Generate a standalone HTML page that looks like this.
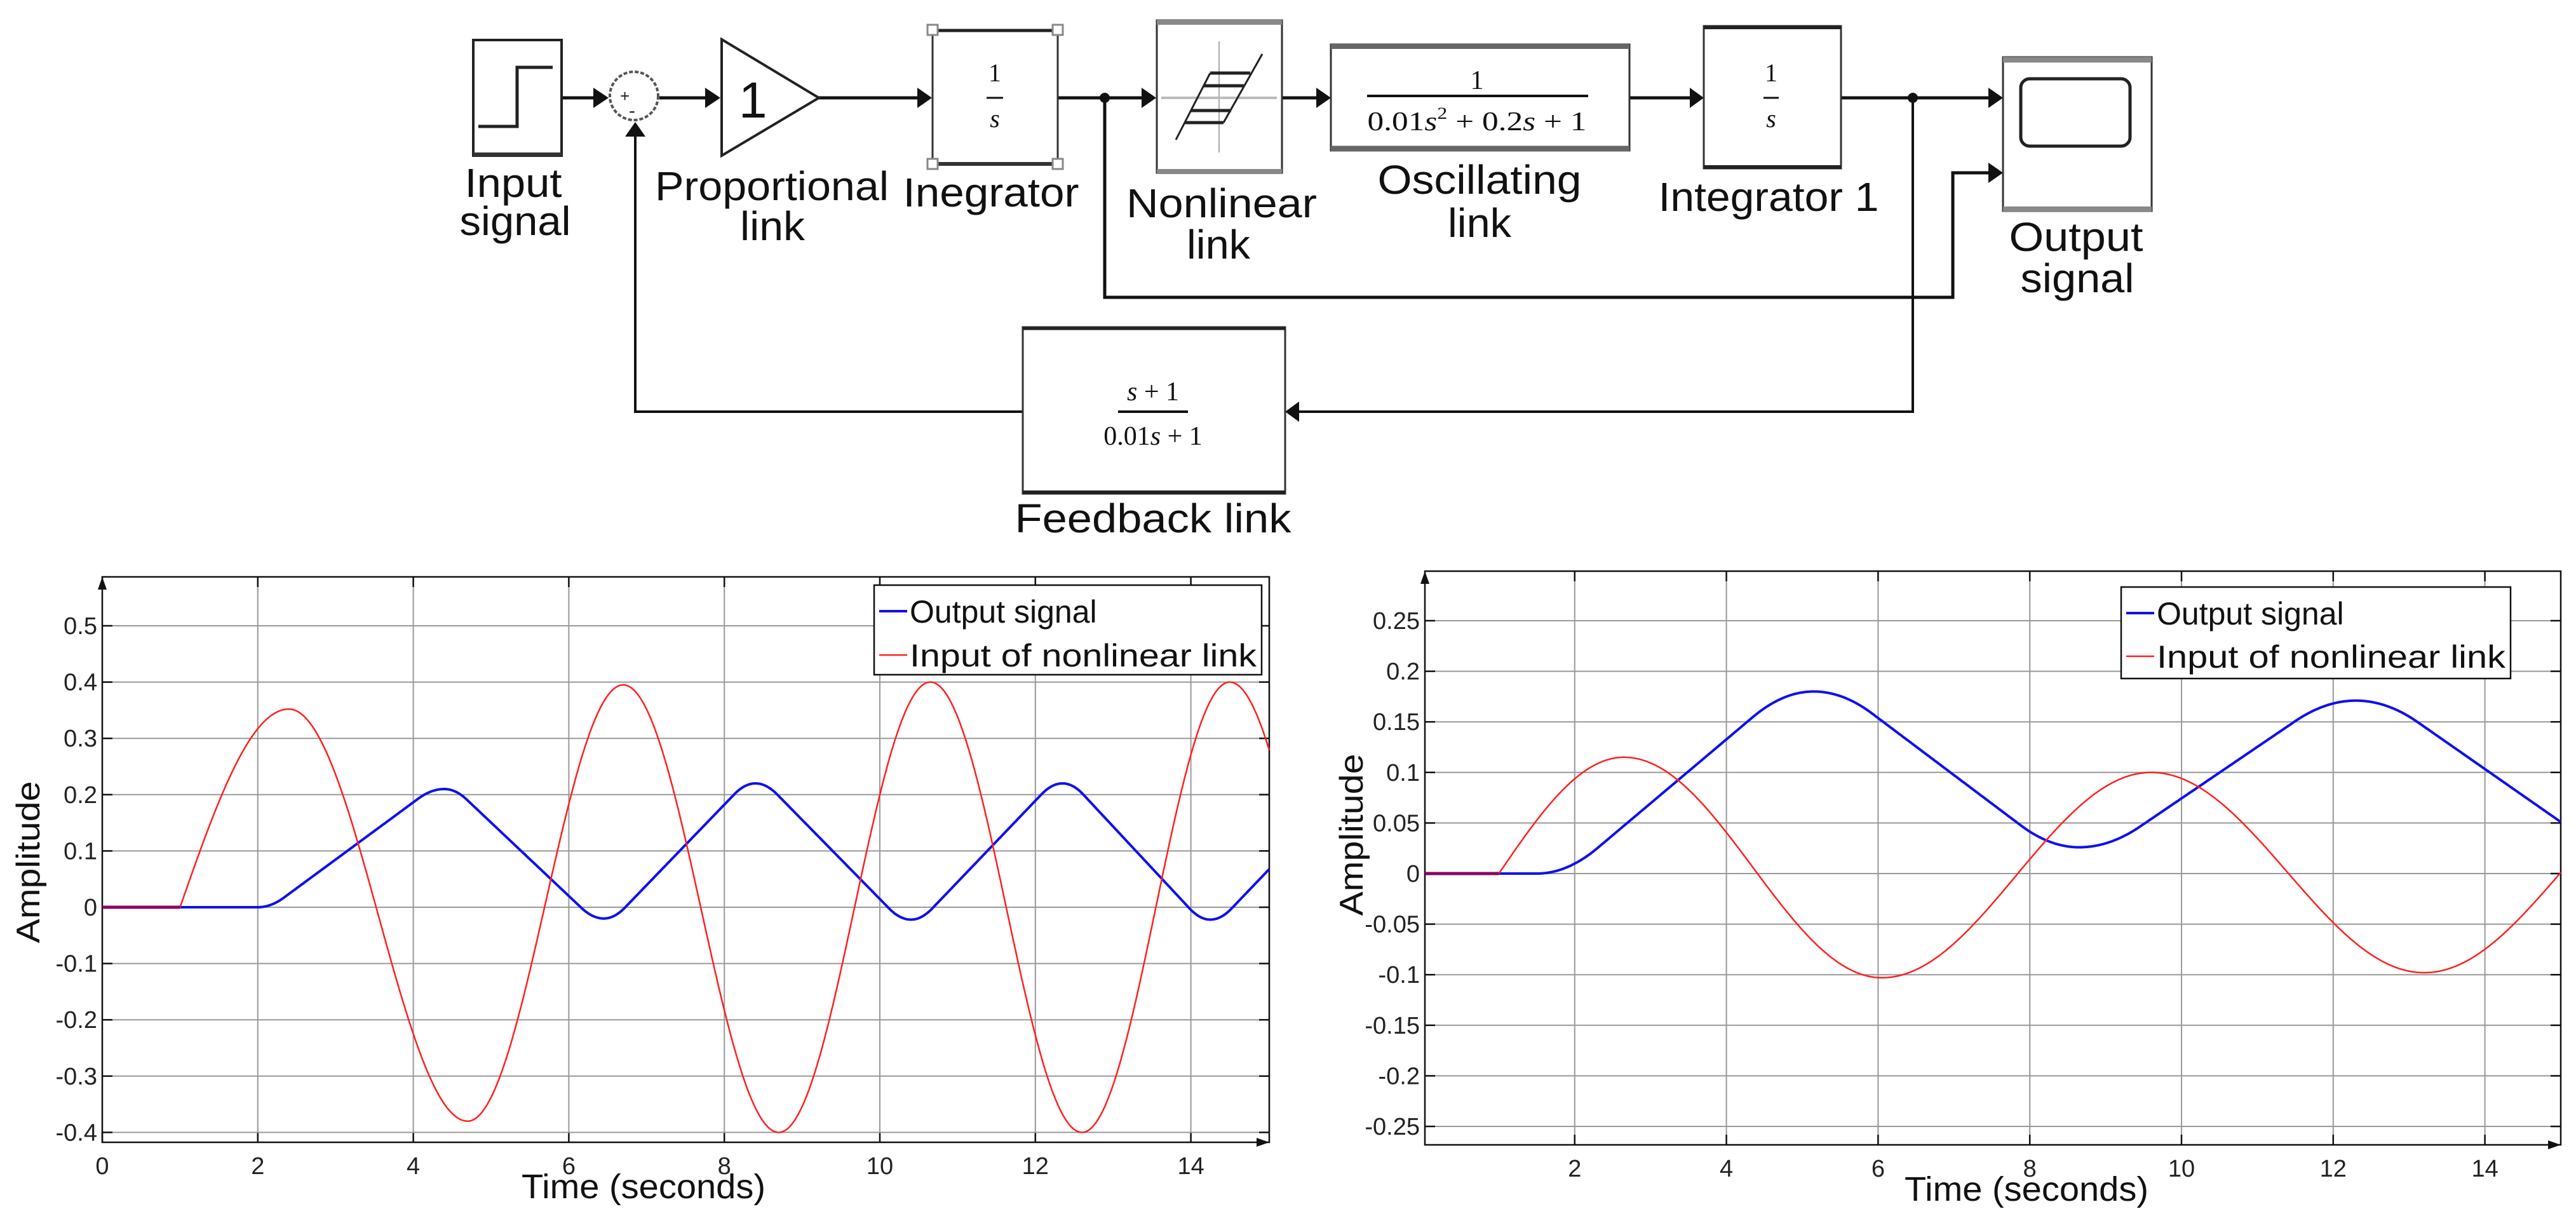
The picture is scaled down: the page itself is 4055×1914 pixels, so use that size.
<!DOCTYPE html>
<html><head><meta charset="utf-8"><style>
html,body{margin:0;padding:0;background:#fff;}
svg{display:block;}
text{font-family:"Liberation Sans",sans-serif;}
.lbl{font-size:64px;fill:#111;}
.tk{font-size:38px;fill:#222;}
.sf{font-family:"Liberation Serif",serif;fill:#111;}
</style></head><body>
<svg id="s" width="4055" height="1914" viewBox="0 0 4055 1914" xmlns="http://www.w3.org/2000/svg">
<defs>
<marker id="ah" markerWidth="10" markerHeight="10" refX="9" refY="5" orient="auto" markerUnits="userSpaceOnUse" viewBox="0 0 10 10"><path d="M0,0 L10,5 L0,10 z" fill="#111"/></marker>
</defs>
<g stroke="#111" stroke-width="5" fill="none">
<!-- main line -->
<line x1="884" y1="154" x2="934" y2="154"/>
<path d="M934,138 L958,154 L934,170 z" fill="#111" stroke="none"/>
<line x1="1038" y1="154" x2="1110" y2="154"/>
<path d="M1110,138 L1134,154 L1110,170 z" fill="#111" stroke="none"/>
<line x1="1289" y1="154" x2="1444" y2="154"/>
<path d="M1444,138 L1467,154 L1444,170 z" fill="#111" stroke="none"/>
<line x1="1665" y1="154" x2="1797" y2="154"/>
<path d="M1797,138 L1820,154 L1797,170 z" fill="#111" stroke="none"/>
<line x1="2018" y1="154" x2="2072" y2="154"/>
<path d="M2072,138 L2095,154 L2072,170 z" fill="#111" stroke="none"/>
<line x1="2565" y1="154" x2="2660" y2="154"/>
<path d="M2660,138 L2682,154 L2660,170 z" fill="#111" stroke="none"/>
<line x1="2898" y1="154" x2="3130" y2="154"/>
<path d="M3130,138 L3153,154 L3130,170 z" fill="#111" stroke="none"/>
<!-- loop from integrator branch -->
<path d="M1739,154 L1739,468 L3074,468 L3074,272 L3130,272"/>
<path d="M3130,256 L3153,272 L3130,288 z" fill="#111" stroke="none"/>
<!-- feedback -->
<path d="M3011,154 L3011,648 L2045,648" stroke-width="4"/>
<path d="M2045,632 L2023,648 L2045,664 z" fill="#111" stroke="none"/>
<path d="M1610,648 L1000,648 L1000,215" stroke-width="4"/>
<path d="M984,215 L1000,192 L1016,215 z" fill="#111" stroke="none"/>
</g>
<circle cx="1739" cy="154" r="8" fill="#111"/>
<circle cx="3011" cy="154" r="8" fill="#111"/>
<!-- input box -->
<rect x="745" y="63" width="139" height="182" fill="#fff" stroke="#222" stroke-width="4"/>
<line x1="745" y1="243" x2="884" y2="243" stroke="#333" stroke-width="6"/>
<path d="M753,199 L814,199 L814,106 L870,106" stroke="#222" stroke-width="5" fill="none"/>
<!-- sum -->
<circle cx="998" cy="151" r="38" fill="#fff" stroke="#555" stroke-width="4" stroke-dasharray="6,3"/>
<text x="976" y="160" font-size="26" fill="#222">+</text>
<text x="990" y="184" font-size="30" fill="#222">-</text>
<!-- gain -->
<path d="M1136,62 L1289,154 L1136,245 z" fill="#fff" stroke="#222" stroke-width="4"/>
<text x="1163" y="185" font-size="80" fill="#111">1</text>
<!-- integrator -->
<rect x="1468" y="47" width="197" height="211" fill="#fff" stroke="#333" stroke-width="3"/>
<line x1="1470" y1="48" x2="1663" y2="48" stroke="#222" stroke-width="5"/>
<line x1="1470" y1="258" x2="1663" y2="258" stroke="#333" stroke-width="6"/>
<g fill="#fff" stroke="#888" stroke-width="3">
<rect x="1460" y="39" width="16" height="16"/><rect x="1657" y="39" width="16" height="16"/>
<rect x="1460" y="250" width="16" height="16"/><rect x="1657" y="250" width="16" height="16"/></g>
<text class="sf" x="1566" y="128" font-size="40" text-anchor="middle">1</text>
<line x1="1553" y1="154" x2="1579" y2="154" stroke="#111" stroke-width="3"/>
<text class="sf" x="1566" y="200" font-size="40" font-style="italic" text-anchor="middle">s</text>
<!-- nonlinear -->
<rect x="1821" y="32" width="197" height="240" fill="#fff" stroke="#333" stroke-width="3"/>
<line x1="1821" y1="35" x2="2018" y2="35" stroke="#888" stroke-width="8"/>
<line x1="1821" y1="270" x2="2018" y2="270" stroke="#888" stroke-width="8"/>
<line x1="1919" y1="65" x2="1919" y2="240" stroke="#aaa" stroke-width="2"/>
<line x1="1828" y1="154" x2="2010" y2="154" stroke="#bbb" stroke-width="4"/>
<g stroke="#222" stroke-width="3"><line x1="1851" y1="220" x2="1905" y2="115"/><line x1="1926" y1="193" x2="1987" y2="85"/></g>
<g stroke="#222" stroke-width="5"><line x1="1905" y1="115" x2="1968" y2="115"/><line x1="1895" y1="135" x2="1958" y2="135"/><line x1="1875" y1="174" x2="1938" y2="174"/><line x1="1865" y1="193" x2="1926" y2="193"/></g>
<!-- oscillating -->
<rect x="2095" y="70" width="470" height="167" fill="#fff" stroke="#333" stroke-width="3"/>
<line x1="2095" y1="73" x2="2565" y2="73" stroke="#666" stroke-width="8"/>
<line x1="2095" y1="234" x2="2565" y2="234" stroke="#666" stroke-width="9"/>
<text class="sf" x="2325" y="140" font-size="42" text-anchor="middle">1</text>
<line x1="2152" y1="151" x2="2500" y2="151" stroke="#111" stroke-width="4"/>
<text class="sf" x="2325" y="205" font-size="42" text-anchor="middle" textLength="345" lengthAdjust="spacingAndGlyphs">0.01<tspan font-style="italic">s</tspan><tspan font-size="26" dy="-18">2</tspan><tspan dy="18"> + 0.2</tspan><tspan font-style="italic">s</tspan> + 1</text>
<!-- integrator 1 -->
<rect x="2682" y="41" width="216" height="224" fill="#fff" stroke="#333" stroke-width="3"/>
<line x1="2682" y1="43" x2="2898" y2="43" stroke="#222" stroke-width="6"/>
<line x1="2682" y1="263" x2="2898" y2="263" stroke="#222" stroke-width="6"/>
<text class="sf" x="2788" y="128" font-size="40" text-anchor="middle">1</text>
<line x1="2776" y1="154" x2="2800" y2="154" stroke="#111" stroke-width="3"/>
<text class="sf" x="2788" y="200" font-size="40" font-style="italic" text-anchor="middle">s</text>
<!-- output scope -->
<rect x="3153" y="90" width="234" height="242" fill="#fff" stroke="#333" stroke-width="3"/>
<line x1="3153" y1="94" x2="3387" y2="94" stroke="#888" stroke-width="9"/>
<line x1="3153" y1="329" x2="3387" y2="329" stroke="#888" stroke-width="8"/>
<rect x="3181" y="124" width="172" height="106" rx="14" fill="#fff" stroke="#222" stroke-width="5"/>
<!-- feedback box -->
<rect x="1610" y="515" width="413" height="262" fill="#fff" stroke="#333" stroke-width="3"/>
<line x1="1610" y1="517" x2="2023" y2="517" stroke="#222" stroke-width="5"/>
<line x1="1610" y1="775" x2="2023" y2="775" stroke="#222" stroke-width="6"/>
<text class="sf" x="1815" y="630" font-size="42" text-anchor="middle"><tspan font-style="italic">s</tspan> + 1</text>
<line x1="1760" y1="648" x2="1870" y2="648" stroke="#111" stroke-width="4"/>
<text class="sf" x="1815" y="700" font-size="42" text-anchor="middle">0.01<tspan font-style="italic">s</tspan> + 1</text>
<!-- labels -->
<g class="lbl" text-anchor="middle">
<text x="808" y="310" textLength="153" lengthAdjust="spacingAndGlyphs">Input</text>
<text x="811" y="370" textLength="175" lengthAdjust="spacingAndGlyphs">signal</text>
<text x="1215" y="315" textLength="368" lengthAdjust="spacingAndGlyphs">Proportional</text>
<text x="1216" y="378" textLength="102" lengthAdjust="spacingAndGlyphs">link</text>
<text x="1560" y="325" textLength="277" lengthAdjust="spacingAndGlyphs">Inegrator</text>
<text x="1923" y="342" textLength="300" lengthAdjust="spacingAndGlyphs">Nonlinear</text>
<text x="1918" y="407" textLength="100" lengthAdjust="spacingAndGlyphs">link</text>
<text x="2329" y="305" textLength="321" lengthAdjust="spacingAndGlyphs">Oscillating</text>
<text x="2329" y="373" textLength="100" lengthAdjust="spacingAndGlyphs">link</text>
<text x="2784" y="332" textLength="347" lengthAdjust="spacingAndGlyphs">Integrator 1</text>
<text x="3268" y="395" textLength="211" lengthAdjust="spacingAndGlyphs">Output</text>
<text x="3270" y="460" textLength="179" lengthAdjust="spacingAndGlyphs">signal</text>
<text x="1815" y="838" textLength="435" lengthAdjust="spacingAndGlyphs">Feedback link</text>
</g>
<g id="plots"></g>
</svg>
<script>
(function(){
var NS="http://www.w3.org/2000/svg",G=document.getElementById("plots");
function el(t,a,txt){var e=document.createElementNS(NS,t);for(var k in a)e.setAttribute(k,a[k]);if(txt!=null)e.textContent=txt;G.appendChild(e);return e;}
function rnd(u,r){var k=1/(1-r);if(u<r)return k*u*u/(2*r);if(u>1-r){var v=1-u;return 1-k*v*v/(2*r);}return k*r/2+k*(u-r);}
function segs(ext,t,mode,r){ // ext: [[t,v],...]
 for(var i=0;i<ext.length-1;i++){var a=ext[i],b=ext[i+1];if(t>=a[0]&&t<=b[0]){var u=(t-a[0])/(b[0]-a[0]);var f=mode=="cos"?0.5-0.5*Math.cos(Math.PI*u):rnd(u,r);return a[1]+(b[1]-a[1])*f;}}
 return 0;}
function plot(P){
 var X=function(t){return P.x0+t*P.ux},Y=function(v){return P.y0-v*P.uy};
 // grid
 P.xt.forEach(function(t){el("line",{x1:X(t),y1:P.top,x2:X(t),y2:P.bot,stroke:"#999","stroke-width":2});
  el("line",{x1:X(t),y1:P.bot,x2:X(t),y2:P.bot-16,stroke:"#111","stroke-width":2.5});
  el("line",{x1:X(t),y1:P.top,x2:X(t),y2:P.top+16,stroke:"#111","stroke-width":2.5});
  el("text",{x:X(t),y:P.bot+50,"text-anchor":"middle","class":"tk"},String(t));});
 P.yt.forEach(function(v){var y=Y(v);el("line",{x1:P.left,y1:y,x2:P.right,y2:y,stroke:"#999","stroke-width":2});
  el("line",{x1:P.left,y1:y,x2:P.left+16,y2:y,stroke:"#111","stroke-width":2.5});
  el("line",{x1:P.right,y1:y,x2:P.right-16,y2:y,stroke:"#111","stroke-width":2.5});
  el("text",{x:P.left-8,y:y+13,"text-anchor":"end","class":"tk"},P.fmt(v));});
 el("path",{d:"M"+P.left+","+P.bot+" V"+P.top+" H"+P.right+" V"+P.bot+" Z",fill:"none",stroke:"#111","stroke-width":2.5});
 el("path",{d:"M"+(P.left-7)+","+(P.top+20)+" L"+P.left+","+P.top+" L"+(P.left+7)+","+(P.top+20)+" z",fill:"#111"});
 el("path",{d:"M"+(P.right-20)+","+(P.bot-7)+" L"+P.right+","+P.bot+" L"+(P.right-20)+","+(P.bot+7)+" z",fill:"#111"});
 function curve(fn,col,w){var d="",tmax=(P.right-P.x0)/P.ux,tmin=(P.left-P.x0)/P.ux;for(var i=0;i<=1200;i++){var t=tmin+(tmax-tmin)*i/1200;d+=(i?"L":"M")+X(t).toFixed(1)+","+Y(fn(t)).toFixed(1);}el("path",{d:d,fill:"none",stroke:col,"stroke-width":w});}
 curve(P.blue,"#1010ee",4);curve(P.red,"#ff2020",2.5);
 el("line",{x1:P.left,y1:Y(0),x2:X(1),y2:Y(0),stroke:"#8a0060","stroke-width":5});
 // legend
 var L=P.leg;el("rect",{x:L[0],y:L[1],width:L[2]-L[0],height:L[3]-L[1],fill:"#fff",stroke:"#111","stroke-width":2.5});
 el("line",{x1:L[0]+8,y1:L[4]-18,x2:L[0]+52,y2:L[4]-18,stroke:"#1010ee","stroke-width":4});
 el("line",{x1:L[0]+8,y1:L[5]-18,x2:L[0]+52,y2:L[5]-18,stroke:"#ff2020","stroke-width":2.5});
 el("text",{x:L[0]+56,y:L[4],"font-size":50,fill:"#111"},"Output signal");
 el("text",{x:L[0]+56,y:L[5],"font-size":50,fill:"#111",textLength:L[2]-L[0]-64,lengthAdjust:"spacingAndGlyphs"},"Input of nonlinear link");
 el("text",{x:P.tx,y:P.bot+88,"font-size":54,fill:"#111","text-anchor":"middle",textLength:384,lengthAdjust:"spacingAndGlyphs"},"Time (seconds)");
 el("text",{x:0,y:0,"font-size":52,fill:"#111","text-anchor":"middle",textLength:255,lengthAdjust:"spacingAndGlyphs",transform:"translate("+P.ax+","+P.ay+") rotate(-90)"},"Amplitude");
}
// left plot
var redL=[[2.4,.352],[4.7,-.38],[6.7,.395],[8.7,-.40],[10.65,.40],[12.6,-.40],[14.5,.40],[16.5,-.40]];
var bluL=[[2,0],[4.4,.21],[6.45,-.02],[8.4,.22],[10.4,-.022],[12.35,.22],[14.25,-.022],[16.2,.22]];
plot({x0:161,ux:122.4,y0:1428,uy:886,left:161,right:1998,top:908,bot:1798,
 xt:[0,2,4,6,8,10,12,14],yt:[-.4,-.3,-.2,-.1,0,.1,.2,.3,.4,.5],
 fmt:function(v){return v==0?"0":String(Math.round(v*10)/10).replace("0.",  "0.");},
 red:function(t){if(t<1)return 0;if(t<2.4)return .352*Math.sin(Math.PI/2*(t-1)/1.4);return segs(redL,t,"cos");},
 blue:function(t){if(t<2)return 0;return segs(bluL,t,"rnd",.14);},
 leg:[1376,921,1986,1062,980,1049],tx:1013,ax:62,ay:1357});
// right plot
var redR=[[2.65,.115],[6.05,-.103],[9.6,.1],[13.2,-.098],[16.8,.1]];
var bluR=[[1.5,0],[5.15,.18],[8.65,.026],[12.3,.171],[16,.02]];
plot({x0:2240,ux:119.4,y0:1375,uy:1592,left:2243,right:4031,top:899,bot:1802,
 xt:[2,4,6,8,10,12,14],yt:[-.25,-.2,-.15,-.1,-.05,0,.05,.1,.15,.2,.25],
 fmt:function(v){return v==0?"0":String(Math.round(v*100)/100);},
 red:function(t){if(t<1)return 0;if(t<2.65)return .115*Math.sin(Math.PI/2*(t-1)/1.65);return segs(redR,t,"cos");},
 blue:function(t){if(t<1.5)return 0;return segs(bluR,t,"rnd",.22);},
 leg:[3339,924,3952,1068,983,1051],tx:3190,ax:2145,ay:1314});
})();
</script>
</body></html>
